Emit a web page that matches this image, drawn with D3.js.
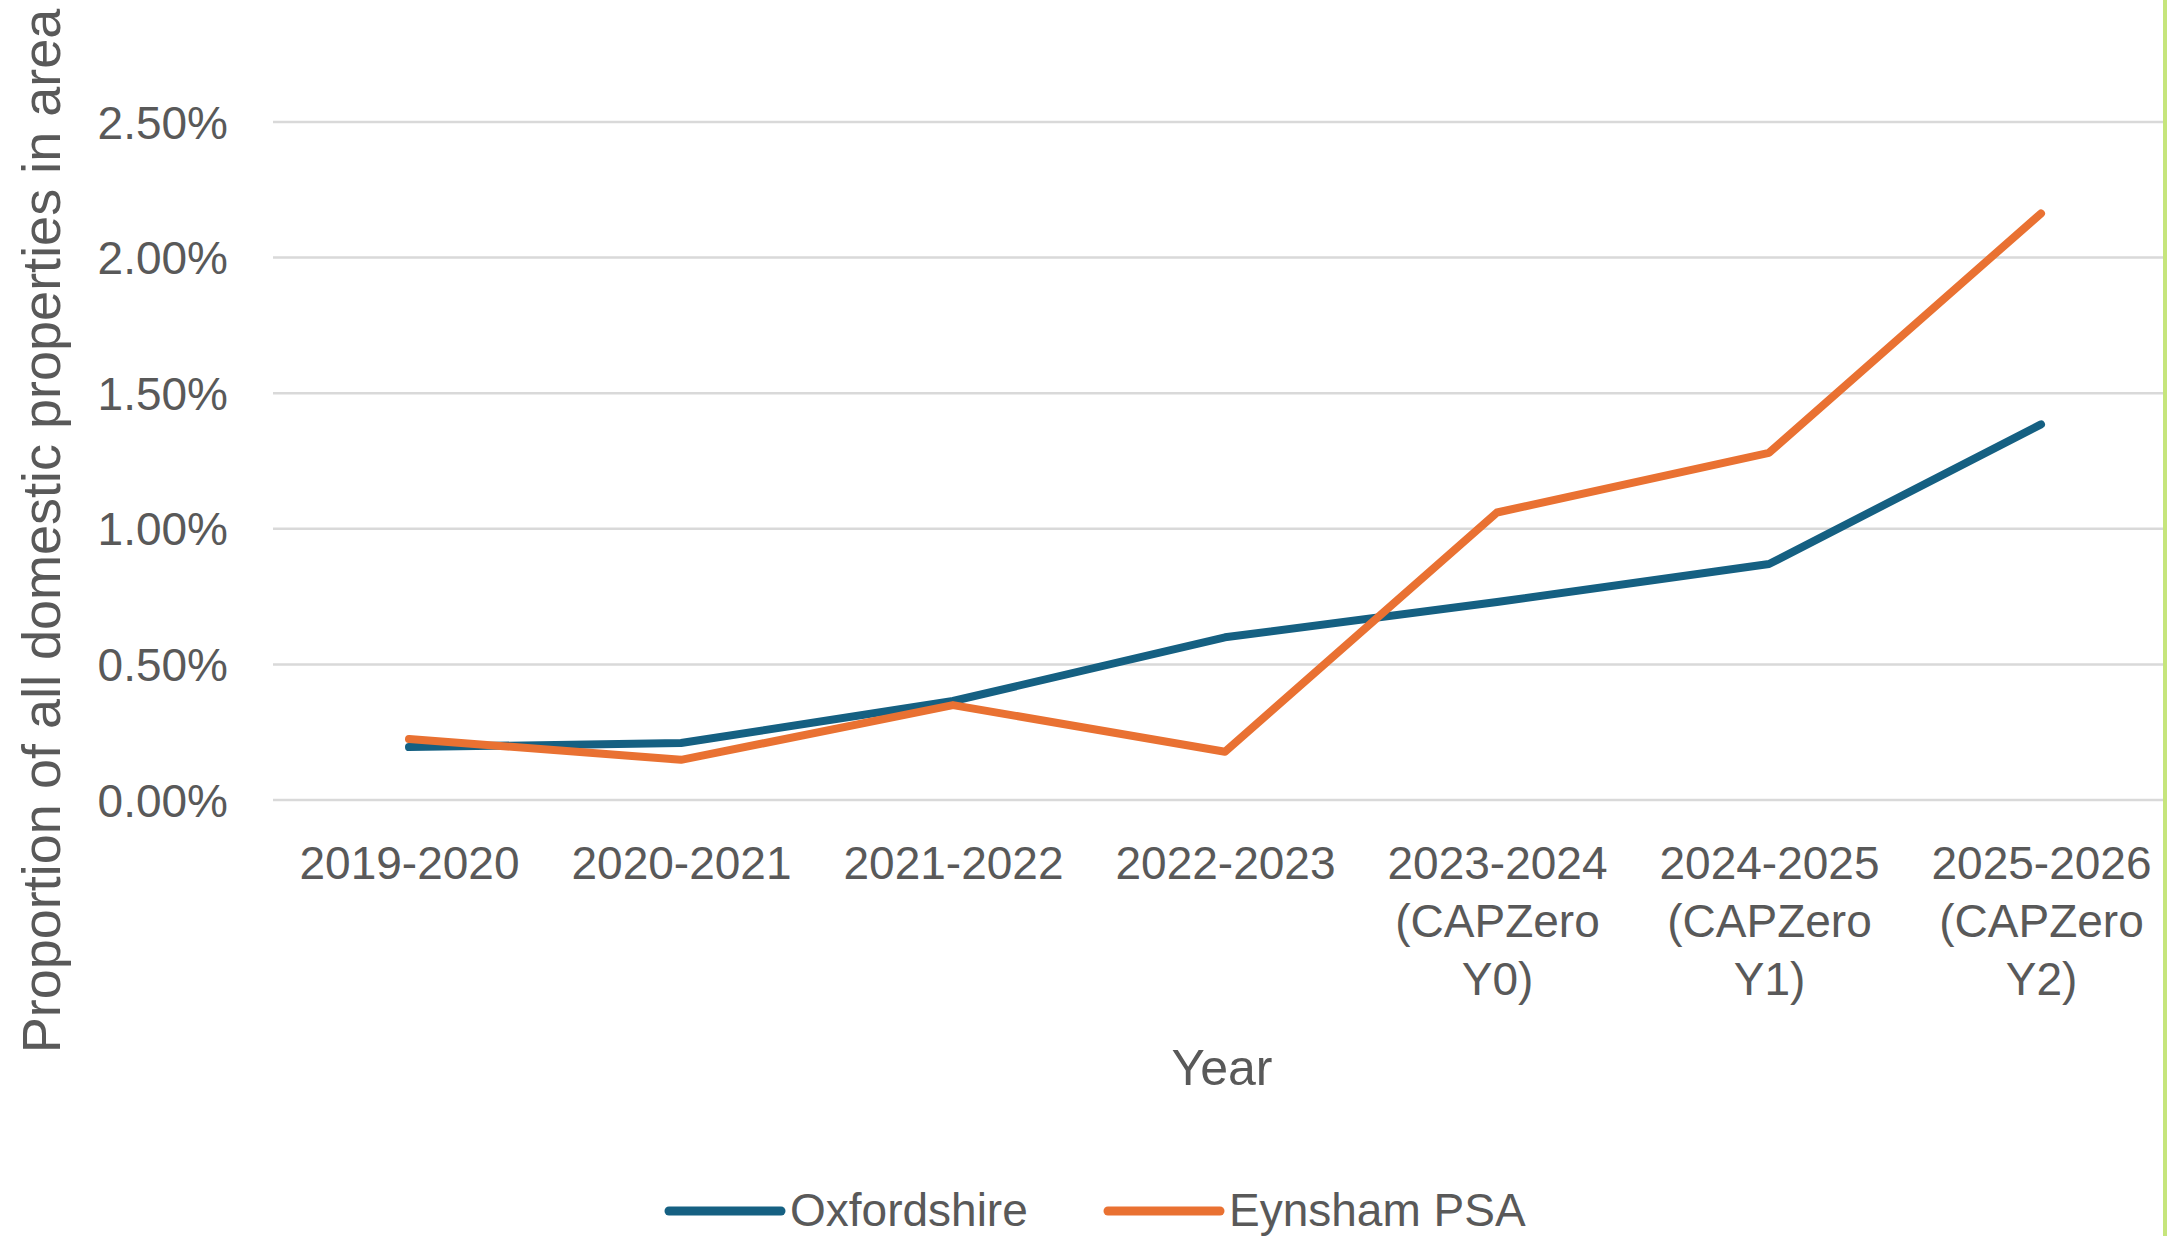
<!DOCTYPE html>
<html>
<head>
<meta charset="utf-8">
<script src="https://cdn.jsdelivr.net/npm/d3@7"></script>
<style>
  html, body { margin: 0; padding: 0; background: #fff; }
  svg { display: block; }
  text { font-family: "Liberation Sans", Arial, sans-serif; fill: #595959; }
</style>
</head>
<body>
<div id="main"></div>
<script>
// categories, one array of lines per tick label
const categories = [
  ["2019-2020"],
  ["2020-2021"],
  ["2021-2022"],
  ["2022-2023"],
  ["2023-2024", "(CAPZero", "Y0)"],
  ["2024-2025", "(CAPZero", "Y1)"],
  ["2025-2026", "(CAPZero", "Y2)"]
];
// values in percent
const oxfordshire = [0.195, 0.21, 0.365, 0.60, 0.73, 0.87, 1.385];
const eynsham = [0.225, 0.148, 0.35, 0.178, 1.06, 1.28, 2.163];
const yTicks = [0, 0.5, 1, 1.5, 2, 2.5];
const seriesNames = ["Oxfordshire", "Eynsham PSA"];
const seriesColors = ["#156082", "#E97132"];

const width = 2167;
const height = 1236;
const plot = { left: 273, right: 2177, top: 122, bottom: 800 };

const svg = d3.select("#main").append("svg")
  .attr("width", width)
  .attr("height", height);

const keys = categories.map(d => d.join(" "));

const x = d3.scalePoint()
  .domain(keys)
  .range([plot.left, plot.right])
  .padding(0.5);

const y = d3.scaleLinear()
  .domain([0, 2.5])
  .range([plot.bottom, plot.top]);

// gridlines
svg.append("g")
  .selectAll("line")
  .data(yTicks)
  .enter().append("line")
  .attr("x1", plot.left)
  .attr("x2", plot.right)
  .attr("y1", d => y(d))
  .attr("y2", d => y(d))
  .attr("stroke", "#d9d9d9")
  .attr("stroke-width", 2.5);

// y axis labels
const yAxis = svg.append("g")
  .attr("transform", "translate(228,0)")
  .call(d3.axisLeft(y).tickValues(yTicks).tickSize(0).tickPadding(0)
    .tickFormat(d => d3.format(".2f")(d) + "%"));
yAxis.select(".domain").remove();
yAxis.selectAll("text")
  .attr("font-size", 46)
  .attr("font-family", null)
  .attr("dy", "0.35em");

// x axis labels
const xAxis = svg.append("g")
  .attr("transform", "translate(0," + plot.bottom + ")")
  .call(d3.axisBottom(x).tickSize(0).tickPadding(0));
xAxis.select(".domain").remove();
xAxis.selectAll("text")
  .attr("font-size", 46)
  .attr("font-family", null)
  .attr("y", 79)
  .attr("dy", 0)
  .text(null)
  .each(function(d, i) {
    const t = d3.select(this);
    categories[i].forEach((line, j) => {
      t.append("tspan")
        .attr("x", 0)
        .attr("dy", j === 0 ? 0 : 58)
        .text(line);
    });
  });

// axis titles
svg.append("text")
  .attr("x", 1222)
  .attr("y", 1085)
  .attr("text-anchor", "middle")
  .attr("font-size", 50)
  .text("Year");

svg.append("text")
  .attr("transform", "translate(60,531) rotate(-90)")
  .attr("text-anchor", "middle")
  .attr("font-size", 54)
  .text("Proportion of all domestic properties in area");

// lines
const line = d3.line()
  .x((d, i) => x(keys[i]))
  .y(d => y(d));

[oxfordshire, eynsham].forEach((series, i) => {
  svg.append("path")
    .datum(series)
    .attr("d", line)
    .attr("fill", "none")
    .attr("stroke", seriesColors[i])
    .attr("stroke-width", 8)
    .attr("stroke-linejoin", "round")
    .attr("stroke-linecap", "round");
});

// legend
const legendX = [669, 1108];
const legend = svg.append("g").attr("transform", "translate(0,1211)");
seriesNames.forEach((name, i) => {
  legend.append("line")
    .attr("x1", legendX[i])
    .attr("x2", legendX[i] + 112)
    .attr("stroke", seriesColors[i])
    .attr("stroke-width", 9)
    .attr("stroke-linecap", "round");
  legend.append("text")
    .attr("x", legendX[i] + 121)
    .attr("y", 15)
    .attr("font-size", 46)
    .text(name);
});

// green edge at right
svg.append("rect")
  .attr("x", 2163)
  .attr("y", 0)
  .attr("width", 4)
  .attr("height", height)
  .attr("fill", "#c6e57c");
</script>
</body>
</html>
